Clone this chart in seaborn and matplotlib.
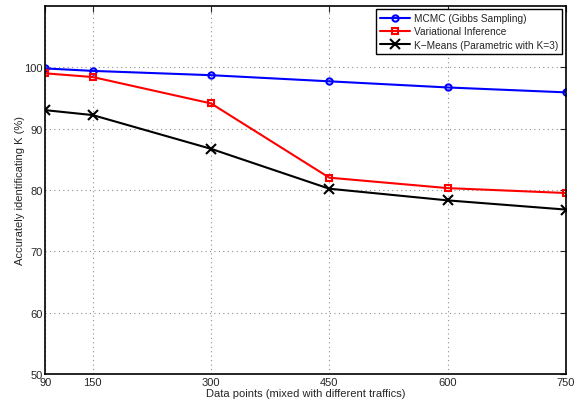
import pandas as pd
import matplotlib
matplotlib.use('Agg')
import matplotlib.pyplot as plt
import seaborn as sns

# data
data_points = [90, 150, 300, 450, 600, 750]
mcmc = [99.8, 99.4, 98.7, 97.7, 96.7, 95.9]
vi = [99.0, 98.4, 94.1, 82.0, 80.3, 79.5]
kmeans = [93.0, 92.2, 86.7, 80.2, 78.3, 76.8]
names = ['MCMC (Gibbs Sampling)', 'Variational Inference', 'K\u2212Means (Parametric with K=3)']

df = pd.DataFrame({
    'x': data_points * 3,
    'y': mcmc + vi + kmeans,
    'method': [names[0]] * 6 + [names[1]] * 6 + [names[2]] * 6,
})

sns.set_style('white')
plt.rcParams['font.family'] = ['Liberation Sans', 'DejaVu Sans']
plt.rcParams['xtick.direction'] = 'in'
plt.rcParams['ytick.direction'] = 'in'

fig, ax = plt.subplots(figsize=(5.74, 4.02), dpi=100)
fig.subplots_adjust(left=0.079, right=0.986, top=0.983, bottom=0.067)

colors = {names[0]: '#0000ff', names[1]: '#ff0000', names[2]: '#000000'}
markers = {names[0]: 'o', names[1]: 's', names[2]: 'x'}
sizes = {names[0]: 4.5, names[1]: 4.5, names[2]: 7}

for name in names:
    sub = df[df['method'] == name]
    mk = markers[name]
    sns.lineplot(data=sub, x='x', y='y', ax=ax, color=colors[name], marker=mk,
                 markersize=sizes[name], markerfacecolor='none' if mk != 'x' else colors[name],
                 markeredgecolor=colors[name], markeredgewidth=1.5, linewidth=1.5, label=name)

ax.set_xlim(90, 750)
ax.set_ylim(50, 110)
ax.set_xticks(data_points)
ax.set_yticks([50, 60, 70, 80, 90, 100])
ax.tick_params(labelsize=8, length=4, width=0.8, top=True, right=True, pad=2)
ax.grid(True, linestyle=(0, (1, 3)), color='#909090', linewidth=0.8)
for s in ax.spines.values():
    s.set_linewidth(1.2)
    s.set_color('black')

ax.set_xlabel('Data points (mixed with different traffics)', fontsize=8, labelpad=1)
ax.set_ylabel('Accurately identificating K (%)', fontsize=8, labelpad=-1)

leg = ax.legend(loc='upper right', fontsize=7.3, fancybox=False, framealpha=1,
                edgecolor='black', borderpad=0.4, labelspacing=0.3, handlelength=3.0,
                handletextpad=0.4, borderaxespad=0.35)
leg.get_frame().set_linewidth(1.0)

plt.savefig('out.png', dpi=100)
